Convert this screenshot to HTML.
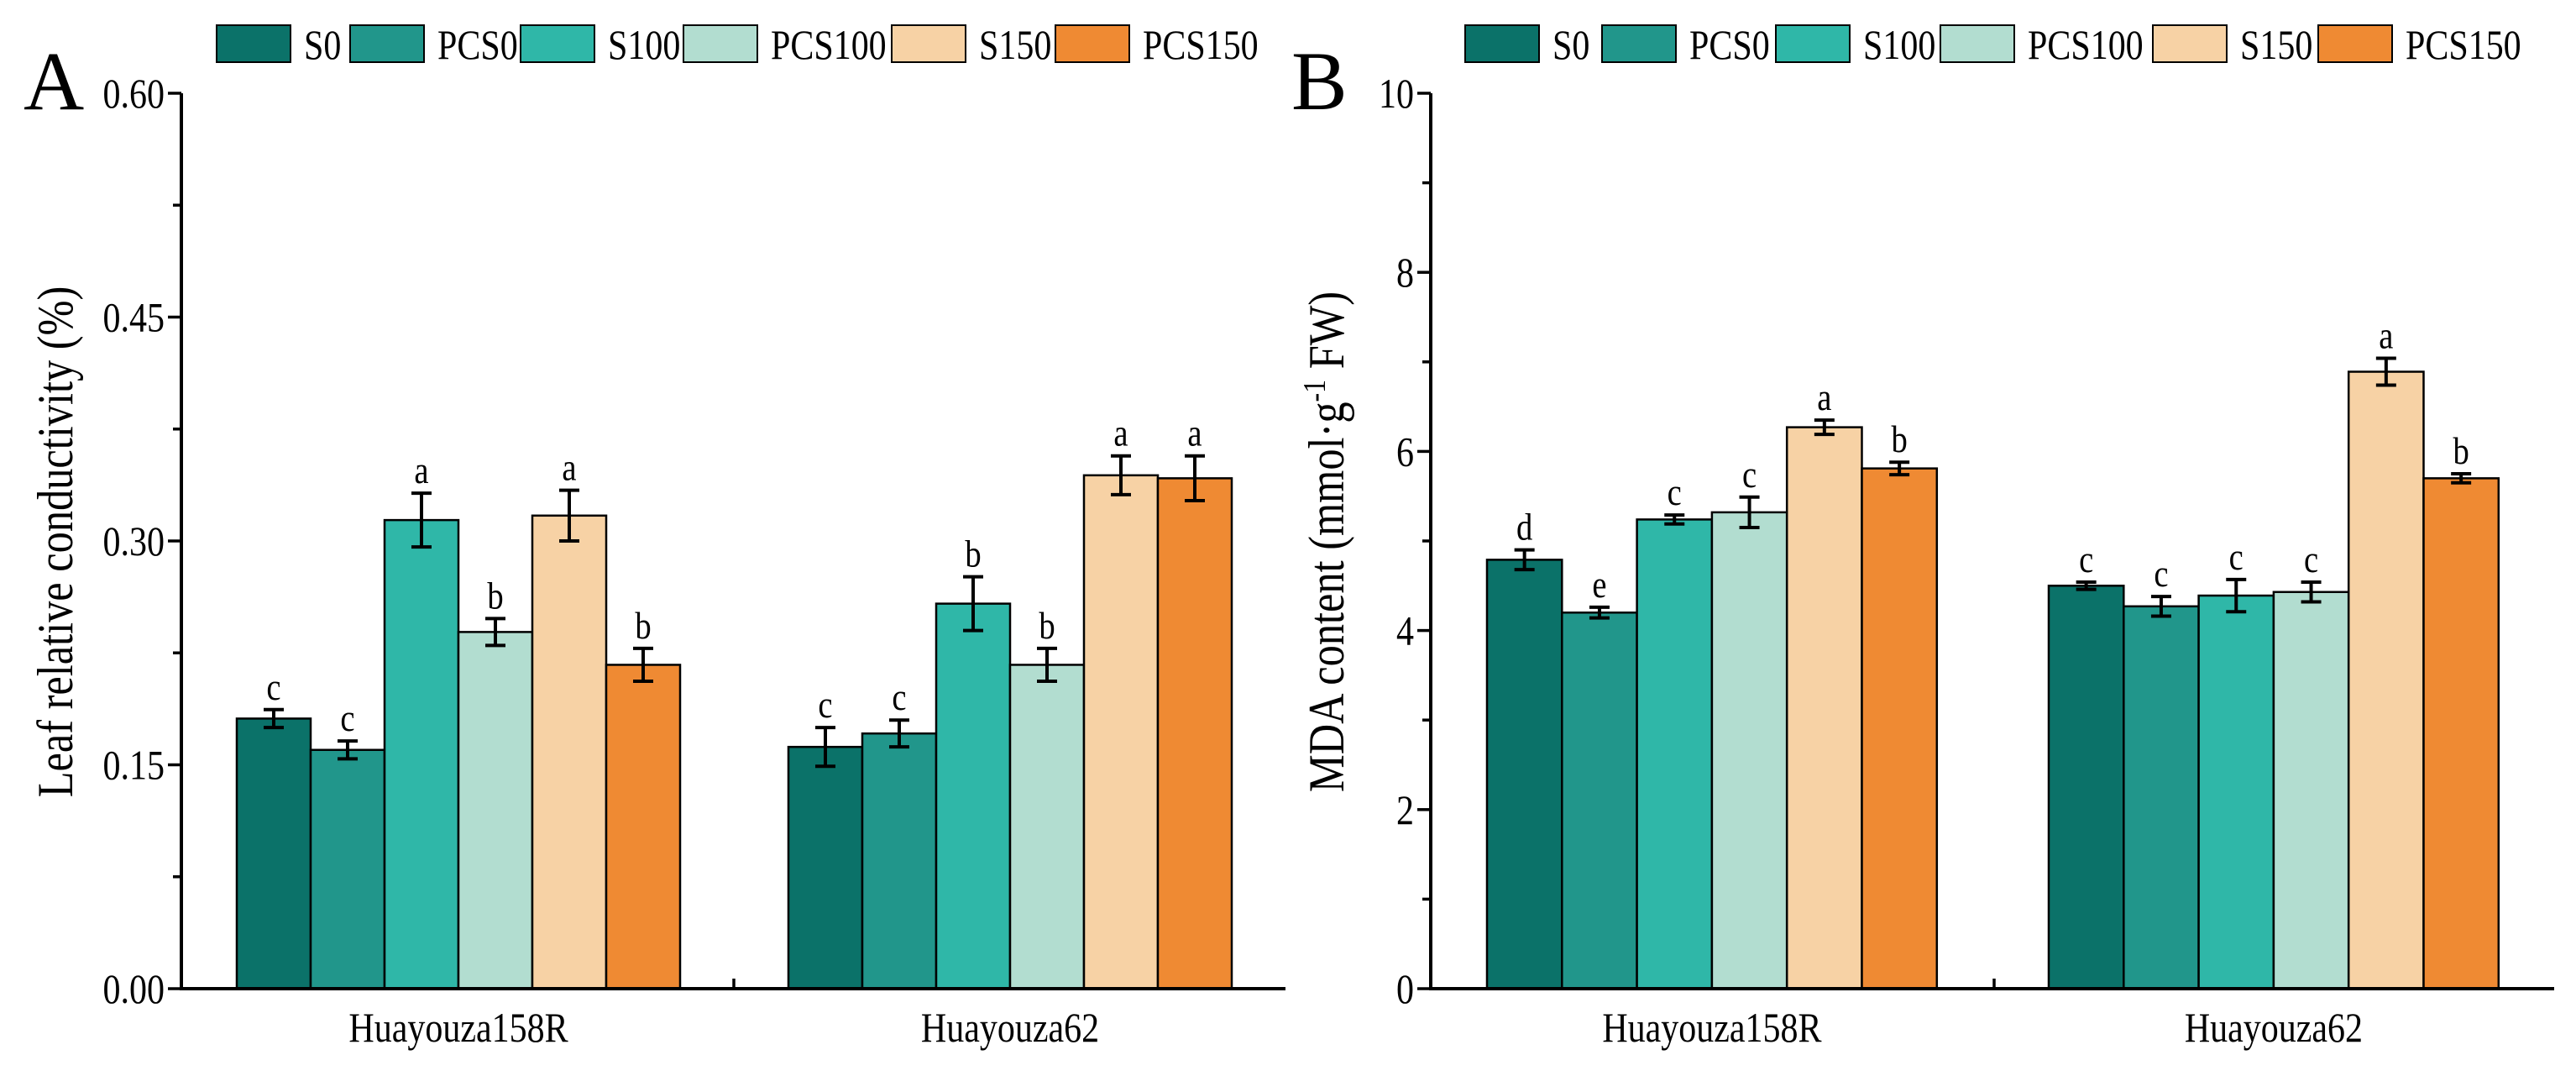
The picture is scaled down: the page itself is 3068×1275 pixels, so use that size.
<!DOCTYPE html>
<html><head><meta charset="utf-8"><style>
html,body{margin:0;padding:0;background:#fff;}
svg{display:block;font-family:"Liberation Serif",serif;}
</style></head><body>
<svg id="c" width="3068" height="1275" viewBox="0 0 3068 1275"></svg>
<script>
const groups = ["Huayouza158R","Huayouza62"];
const series = ["S0","PCS0","S100","PCS100","S150","PCS150"];
const colors = ["#0b7269","#21968b","#2fb7a8","#b2ddd0","#f7d2a5","#ef8a33"];
const valuesA = [[0.181,0.160,0.314,0.239,0.317,0.217],[0.162,0.171,0.258,0.217,0.344,0.342]];
const errorsA = [[0.006,0.006,0.018,0.009,0.017,0.011],[0.013,0.009,0.018,0.011,0.013,0.015]];
const lettersA = [["c","c","a","b","a","b"],["c","c","b","b","a","a"]];
const ticksA = ["0.00","0.15","0.30","0.45","0.60"];
const valuesB = [[4.79,4.20,5.24,5.32,6.27,5.81],[4.50,4.27,4.39,4.43,6.89,5.70]];
const errorsB = [[0.11,0.06,0.05,0.17,0.08,0.07],[0.04,0.11,0.18,0.11,0.15,0.05]];
const lettersB = [["d","e","c","c","a","b"],["c","c","c","c","a","b"]];
const ticksB = ["0","2","4","6","8","10"];

const svg = document.getElementById('c');
const NS = "http://www.w3.org/2000/svg";
const SX = 0.84;
function mk(tag, attrs, parent){const e=document.createElementNS(NS,tag);for(const k in attrs)e.setAttribute(k,attrs[k]);(parent||svg).appendChild(e);return e;}
function txt(x,y,size,anchor,parent,rot){
  const tr = `translate(${x},${y})` + (rot?' rotate(-90)':'') + ` scale(${SX},1)`;
  return mk('text',{x:0,y:0,transform:tr,'font-size':size,'text-anchor':anchor},parent);
}

function panel(cfg){
  const g = mk('g',{});
  
  
  const top=111, bot=1177, x0=cfg.x0, x1=cfg.x1;
  const y = v => bot - (v/cfg.max)*(bot-top);
  const bw = cfg.bw;
  cfg.values.forEach((arr,gi)=>{
    arr.forEach((v,si)=>{
      const bx = cfg.gstart[gi] + si*bw;
      const r = mk('rect',{x:bx,y:y(v),width:bw,height:bot-y(v),fill:colors[si],stroke:'#000','stroke-width':2.5},g);
      
      
      const cx = bx+bw/2, e = cfg.errors[gi][si];
      const eb = mk('path',{d:`M${cx-12},${y(v+e)}H${cx+12}M${cx},${y(v+e)}V${y(v-e)}M${cx-12},${y(v-e)}H${cx+12}`,stroke:'#000','stroke-width':4,fill:'none'},g);
      
      
      const t = txt(cx,y(v+e)-12,46,'middle',g);
      t.textContent = cfg.letters[gi][si];
      
      
    });
  });
  const ax = mk('path',{d:`M${x0},${top}V${bot}H${x1}`,stroke:'#000','stroke-width':4,fill:'none'},g);
  
  
  const n = cfg.ticks.length-1;
  for(let i=0;i<=n*2;i++){
    const v = cfg.max*i/(n*2), yy=y(v);
    mk('line',{x1:x0-(i%2?10:16),x2:x0,y1:yy,y2:yy,stroke:'#000','stroke-width':3.5},g);
  }
  cfg.ticks.forEach((lab,i)=>{
    const t = txt(x0-20,y(cfg.max*i/n)+17,50,'end',g);
    t.textContent = lab;
    
    
  });
  mk('line',{x1:cfg.mid,x2:cfg.mid,y1:bot,y2:bot-12,stroke:'#000','stroke-width':3.5},g);
  groups.forEach((gn,gi)=>{
    const cx = cfg.gstart[gi]+3*bw;
    const t = txt(cx,1240,50,'middle',g);
    t.textContent = gn;
    
    
  });
  const yt = txt(cfg.tx,cfg.ty,60,'middle',g,true);
  yt.innerHTML = cfg.title;
  
  
  const pl = mk('text',{x:cfg.lx,y:130,'font-size':100},g);
  pl.textContent = cfg.letter;
  
  
  series.forEach((s,si)=>{
    const sx = cfg.leg[si];
    const r = mk('rect',{x:sx,y:30,width:88,height:44,fill:colors[si],stroke:'#000','stroke-width':2},g);
    
    
    const t = txt(sx+104,70,50,'start',g);
    t.textContent = s;
    
    
  });
}
panel({name:'panel-a-conductivity',x0:216,x1:1531,max:0.6,bw:88,gstart:[282,939],mid:874,
  values:valuesA,errors:errorsA,letters:lettersA,ticks:ticksA,tx:86,ty:645,
  title:'Leaf relative conductivity (%)',lx:28,letter:'A',
  leg:[258,417,620,814,1062,1257]});
panel({name:'panel-b-mda',x0:1704,x1:3042,max:10,bw:89.3,gstart:[1771,2440],mid:2375,
  values:valuesB,errors:errorsB,letters:lettersB,ticks:ticksB,tx:1600,ty:645,
  title:'MDA content (mmol·g<tspan dy="-22" font-size="38">-1</tspan><tspan dy="22"> FW)</tspan>',lx:1538,letter:'B',
  leg:[1745,1908,2115,2311,2564,2761]});
</script>
</body></html>
